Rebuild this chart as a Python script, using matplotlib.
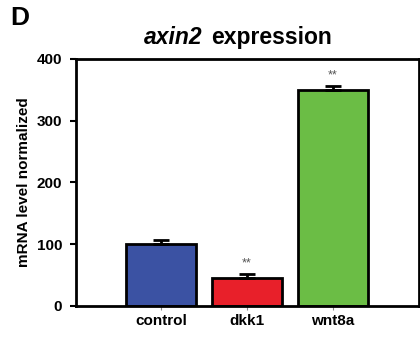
import matplotlib
matplotlib.use("Agg")
import matplotlib.pyplot as plt

plt.rcParams['font.family'] = ['Liberation Sans', 'DejaVu Sans']

groups = ['control', 'dkk1', 'wnt8a']
means = [100, 45, 350]
errors = [7, 6, 6]
colors = ['#3b52a3', '#e8202a', '#6bbd45']
stars = ['', '**', '**']

fig = plt.figure(figsize=(4.2, 3.38), dpi=100)
ax = fig.add_axes([0.181, 0.095, 0.816, 0.731])

x = range(len(groups))
ax.bar(x, means, width=0.81, color=colors, edgecolor='black', linewidth=2, zorder=2)
ax.errorbar(x, means, yerr=[[0] * len(errors), errors], fmt='none', ecolor='black',
            elinewidth=2, capsize=5.5, capthick=2, zorder=3)
for xi, m, e, s in zip(x, means, errors, stars):
    if s:
        ax.text(xi, m + e + 8, s, ha='center', va='bottom', fontsize=9, color='#555555')

ax.set_xlim(-0.99, 3.0)
ax.set_ylim(0, 400)
ax.set_yticks([0, 100, 200, 300, 400])
ax.set_xticks(list(x))
ax.set_xticklabels(groups, fontsize=11, fontweight='bold')
for lab in ax.get_yticklabels():
    lab.set_fontweight('bold')
    lab.set_fontsize(11)
ax.tick_params(axis='y', length=4, width=1.5, pad=6)
ax.tick_params(axis='x', length=3, width=0.8, color='#888888', pad=3)
for sp in ax.spines.values():
    sp.set_linewidth(2)

ax.set_ylabel('mRNA level normalized', fontsize=11, fontweight='bold', labelpad=4)

# title: italic gene name + plain bold word
fig.text(0.481, 0.89, 'axin2', ha='right', va='center', fontsize=16.5,
         fontweight='bold', fontstyle='italic')
fig.text(0.503, 0.89, 'expression', ha='left', va='center', fontsize=16.5,
         fontweight='bold')
fig.text(0.025, 0.948, 'D', ha='left', va='center', fontsize=19, fontweight='bold')

fig.savefig('out.png', dpi=100)
